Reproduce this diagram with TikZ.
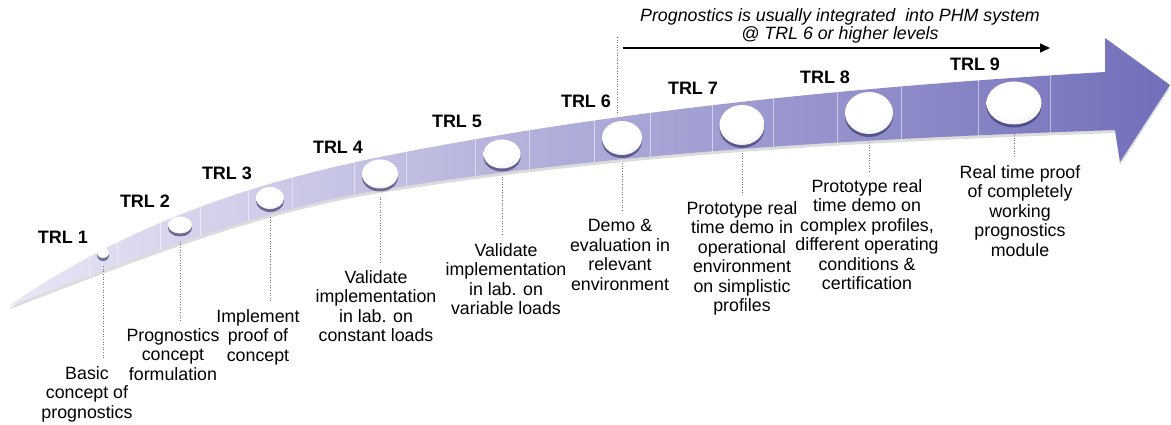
\documentclass[tikz,border=0pt]{standalone}
\usepackage{fontspec}
\setmainfont{Liberation Sans}
\usetikzlibrary{arrows.meta,shapes.geometric,shadows}
\definecolor{bandL}{HTML}{E8E6F5}
\definecolor{bandM}{HTML}{A9A6D8}
\definecolor{bandR}{HTML}{726FBB}
\definecolor{bubShadow}{HTML}{35356A}
\pgfdeclareradialshading{bubshade}{\pgfpoint{-3bp}{12bp}}{color(0bp)=(white); color(24bp)=(white); color(36bp)=(black!10); color(48bp)=(black!40); color(60bp)=(black!60)}
\def\bandpath{(10,305) .. controls (133,221) and (257,182) .. (380,157) .. controls (622,108.6) and (863,86.5) .. (1105,72) -- (1105,38) -- (1170,85) -- (1120,162) -- (1115,130) .. controls (870,138.6) and (625,150.8) .. (380,190) .. controls (257,209.7) and (133,259) .. (10,306) -- cycle}
\begin{document}
\begin{tikzpicture}[x=1pt,y=-1pt,
  trl/.style={font=\bfseries\fontsize{18}{20}\selectfont, inner sep=0pt},
  desc/.style={font=\fontsize{17.8}{19.5}\selectfont, align=center, inner sep=0pt, anchor=north},
  leader/.style={black!55, dotted, line width=0.6pt, shorten <=8pt, shorten >=8pt},
  bubble/.style={ellipse, inner sep=0pt, shade, shading=bubshade,
    drop shadow={shadow xshift=0pt, shadow yshift=-3pt, fill=bubShadow, opacity=0.65}},
  seg/.style={white, opacity=0.5, line width=0.5pt}]
\useasboundingbox (0,0) rectangle (1171,425);
% band shadow
\begin{scope}[yshift=-3pt]
\fill[black!45, opacity=0.3] \bandpath;
\end{scope}
% band
\shade[left color=bandL, middle color=bandM, right color=bandR] \bandpath;
% panel separators
\begin{scope}
\clip \bandpath;
\foreach \x in {89,117,160,200,248,292,354,406,475,529,594,650,712,773,837,901,978,1050}
  \draw[seg] (\x,30) -- (\x,320);
\end{scope}
% bubbles
\node[bubble, minimum width=12pt, minimum height=10pt] (b1) at (103,253) {};
\node[bubble, minimum width=24pt, minimum height=17pt] (b2) at (180,225) {};
\node[bubble, minimum width=28pt, minimum height=22pt] (b3) at (270,198) {};
\node[bubble, minimum width=36pt, minimum height=29pt] (b4) at (380,174) {};
\node[bubble, minimum width=37pt, minimum height=29pt] (b5) at (502,154) {};
\node[bubble, minimum width=40pt, minimum height=34pt] (b6) at (622,138) {};
\node[bubble, minimum width=45pt, minimum height=40pt] (b7) at (742,125) {};
\node[bubble, minimum width=48pt, minimum height=42pt] (b8) at (869,113) {};
\node[bubble, minimum width=55pt, minimum height=43pt] (b9) at (1014,103) {};
% TRL labels
\node[trl] (t1) at (63,237) {TRL 1};
\node[trl] (t2) at (145,201) {TRL 2};
\node[trl] (t3) at (227,173) {TRL 3};
\node[trl] (t4) at (338,147) {TRL 4};
\node[trl] (t5) at (457,121) {TRL 5};
\node[trl] (t6) at (586,101) {TRL 6};
\node[trl] (t7) at (693,88) {TRL 7};
\node[trl] (t8) at (825,77) {TRL 8};
\node[trl] (t9) at (975,64) {TRL 9};
% descriptions
\node[desc] (d1) at (87,366) {Basic\\concept of\\prognostics};
\node[desc] (d2) at (173,328) {Prognostics\\concept\\formulation};
\node[desc] (d3) at (258,309) {Implement\\proof of\\concept};
\node[desc] (d4) at (376,270) {Validate\\implementation\\in lab. on\\constant loads};
\node[desc] (d5) at (506,243) {Validate\\implementation\\in lab. on\\variable loads};
\node[desc] (d6) at (620,219) {Demo \&\\evaluation in\\relevant\\environment};
\node[desc] (d7) at (742,201) {Prototype real\\time demo in\\operational\\environment\\on simplistic\\profiles};
\node[desc] (d8) at (867,179) {Prototype real\\time demo on\\complex profiles,\\different operating\\conditions \&\\certification};
\node[desc] (d9) at (1020,165) {Real time proof\\of completely\\working\\prognostics\\module};
% leaders
\foreach \i in {1,...,9}
  \draw[leader] (b\i.south) -- (b\i.south |- d\i.north);
% top note
\coordinate (c6top) at (617,37);
\draw[leader, shorten <=0pt] (c6top) -- (c6top |- b6.north);
\coordinate (a0) at (623,48);
\coordinate (a1) at (1050,48);
\draw[line width=1.5pt, -{Triangle[length=10pt,width=9pt]}] (a0) -- (a1);
\node[font=\itshape\fontsize{17.8}{18}\selectfont, align=center, inner sep=0pt] (note) at (840,26) {Prognostics is usually integrated\ \ into PHM system\\@ TRL 6 or higher levels};
\end{tikzpicture}
\end{document}
